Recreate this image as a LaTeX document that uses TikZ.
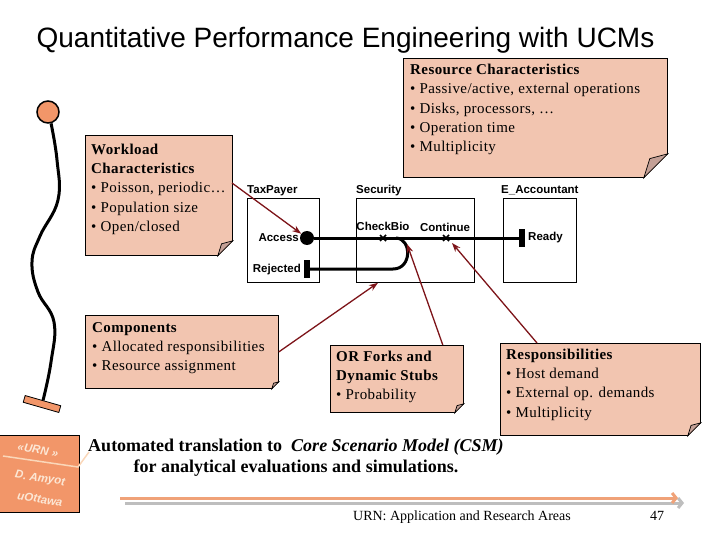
\documentclass[tikz,border=0pt]{standalone}
\usepackage{fontspec}
\setmainfont{Liberation Serif}
\newfontfamily\arialfont{Liberation Sans}
\newfontfamily\notefont[LetterSpace=2.8]{Liberation Serif}
\usetikzlibrary{arrows.meta,calc}

\definecolor{notefill}{RGB}{242,197,176}
\definecolor{foldfill}{RGB}{196,160,150}
\definecolor{urnorange}{RGB}{242,150,105}
\definecolor{causered}{RGB}{125,20,25}
\definecolor{peach}{RGB}{250,215,185}
\definecolor{barorange}{RGB}{240,162,120}
\definecolor{bargrey}{RGB}{190,190,190}

% folded corner of a note: #1 = note, #2 = size
\newcommand{\notefold}[2]{%
  \fill[white] ($(#1.south east)+(-#2,0.7)$) -- ($(#1.south east)+(0.7,0.7)$)
    -- ($(#1.south east)+(0.7,-#2)$) -- cycle;
  \filldraw[fill=foldfill, line width=0.7pt] ($(#1.south east)+(-#2,0)$)
    -- ($(#1.south east)+(-0.75*#2,-0.8*#2)$) -- ($(#1.south east)+(0,-#2)$) -- cycle;
}
% responsibility cross on a path
\newcommand{\respx}[1]{%
  \draw[line width=1.6pt] ($(#1)+(-3,-3)$) -- ($(#1)+(3,3)$);
  \draw[line width=1.6pt] ($(#1)+(-3,3)$) -- ($(#1)+(3,-3)$);
}

\begin{document}
\begin{tikzpicture}[x=1pt,y=-1pt,
  note/.style={draw, fill=notefill, line width=0.8pt, anchor=north west, inner sep=0},
  notetext/.style={anchor=north west, inner sep=0, align=left,
    font=\notefont\fontsize{15}{19.3}\selectfont},
  component/.style={draw, line width=0.8pt, minimum height=84, anchor=north west, inner sep=0},
  ucmlabel/.style={inner sep=0, font=\arialfont\bfseries\fontsize{11.5}{13}\selectfont},
  ucmpath/.style={line width=3pt},
  bar/.style={fill, minimum width=6, minimum height=18, inner sep=0},
  cause/.style={draw=causered, line width=1.3pt, -{Stealth[length=9pt,width=6.5pt]}},
  urntext/.style={text=peach!60!white, inner sep=0, rotate=-9,
    font=\arialfont\bfseries\itshape\fontsize{11.5}{13}\selectfont}]
  \useasboundingbox (0,0) rectangle (720,540);

  % Title
  \node[anchor=base, font=\arialfont\fontsize{28}{32}\selectfont] (title) at (345.5,48)
    {Quantitative Performance Engineering with UCMs};

  % Stick figure
  \node[circle, draw, fill=urnorange, line width=1.5pt, minimum size=22, inner sep=0] (head) at (48,112) {};
  \node[draw, fill=urnorange, line width=0.8pt, minimum width=37, minimum height=7,
    inner sep=0, rotate=-16] (stop) at (42,404) {};
  \draw[line width=3pt] plot[smooth, tension=0.7] coordinates
    {(head.-75) (57,160) (58,200) (40,236) (32,262) (38,292) (54,322) (51,362) (stop.north)};

  % Notes
  \node[note, minimum width=147, minimum height=120] (wl) at (85,135) {};
  \notefold{wl}{15}
  \node[notetext] (wl-text) at (91,143.5) {\textbf{Workload}\\ \textbf{Characteristics}\\
    • Poisson, periodic…\\ • Population size\\ • Open/closed};

  \node[note, minimum width=264, minimum height=119] (res) at (403,58) {};
  \notefold{res}{24}
  \node[notetext] (res-text) at (410,64) {\textbf{Resource Characteristics}\\
    • Passive/active, external operations\\ • Disks, processors, …\\
    • Operation time\\ • Multiplicity};

  \node[note, minimum width=193, minimum height=73] (comp) at (85,315) {};
  \notefold{comp}{7}
  \node[notetext] (comp-text) at (92,322) {\textbf{Components}\\
    • Allocated responsibilities\\ • Resource assignment};

  \node[note, minimum width=133, minimum height=67] (orf) at (330,345) {};
  \notefold{orf}{9}
  \node[notetext] (orf-text) at (336,350.5) {\textbf{OR Forks and}\\ \textbf{Dynamic Stubs}\\
    • Probability};

  \node[note, minimum width=200, minimum height=92] (resp) at (500,343) {};
  \notefold{resp}{13}
  \node[notetext] (resp-text) at (506,348.5) {\textbf{Responsibilities}\\ • Host demand\\
    • External op. demands\\ • Multiplicity};

  % Components of the UCM
  \node[component, minimum width=72] (tp) at (247,198) {};
  \node[component, minimum width=118] (sec) at (356,198) {};
  \node[component, minimum width=73] (acc) at (503,198) {};
  \node[ucmlabel, anchor=base west] (tp-name) at (247,194) {TaxPayer};
  \node[ucmlabel, anchor=base west] (sec-name) at (356,194) {Security};
  \node[ucmlabel, anchor=base west] (acc-name) at (501,194) {E\_Accountant};

  % Path
  \node[circle, fill, minimum size=14, inner sep=0] (access) at (307,238) {};
  \node[bar] (ready) at (522,238) {};
  \node[bar] (rejected) at (307,269) {};
  \coordinate (checkbio) at (383,238);
  \coordinate (continue) at (446,238);
  \coordinate (fork) at (396,238);
  \coordinate (fork-in) at (407,244);
  \draw[ucmpath] (access) -- (ready);
  \draw[ucmpath] (fork) .. controls (412,239) and (412,269) .. (393,269) -- (rejected);
  \respx{checkbio}
  \respx{continue}
  \node[ucmlabel, anchor=east] (access-name) at (299,238) {Access};
  \node[ucmlabel, anchor=east] (rejected-name) at (301,270) {Rejected};
  \node[ucmlabel, anchor=west] (ready-name) at (528,238) {Ready};
  \node[ucmlabel] (checkbio-name) at (383,226) {CheckBio};
  \node[ucmlabel] (continue-name) at (445,227) {Continue};

  % Arrows from the notes
  \coordinate (wl-out) at (232,183);
  \draw[cause] (wl-out) -- (access);
  \draw[cause] (comp.east) -- ($(sec.south west)+(22,0)$);
  \draw[cause] ($(orf.north east)+(-21,0)$) -- (fork-in);
  \draw[cause] ($(resp.north west)+(37,0)$) -- ($(continue)+(6,5)$);

  % CSM
  \node[align=center, font=\bfseries\fontsize{18}{21}\selectfont] (csm) at (296,458)
    {Automated translation to\ \ \textit{Core Scenario Model (CSM)}\\
     for analytical evaluations and simulations.};

  % URN logo
  \node[draw, fill=urnorange, line width=0.8pt, minimum width=80, minimum height=77,
    anchor=north west, inner sep=0] (urn) at (-1,435) {};
  \draw[peach, line width=1.5pt] (3,456) -- (78,467) -- (89,452);
  \node[urntext] (urn-tag) at (38,450) {«URN »};
  \node[urntext] (urn-author) at (40,479) {D. Amyot};
  \node[urntext] (urn-place) at (40,499) {uOttawa};

  % Footer
  \coordinate (orange-start) at (120,498);
  \coordinate (orange-end) at (678,498);
  \coordinate (grey-start) at (125,503);
  \coordinate (grey-end) at (684,503);
  \draw[bargrey, line width=3pt, -{Straight Barb[length=4pt,width=10pt]}] (grey-start) -- (grey-end);
  \draw[barorange, line width=3pt, -{Straight Barb[length=4pt,width=10pt]}] (orange-start) -- (orange-end);
  \node[anchor=base, font=\fontsize{14}{16}\selectfont] (footer) at (462,520)
    {URN: Application and Research Areas};
  \node[anchor=base, font=\fontsize{14}{16}\selectfont] (page) at (657,520) {47};
\end{tikzpicture}
\end{document}
